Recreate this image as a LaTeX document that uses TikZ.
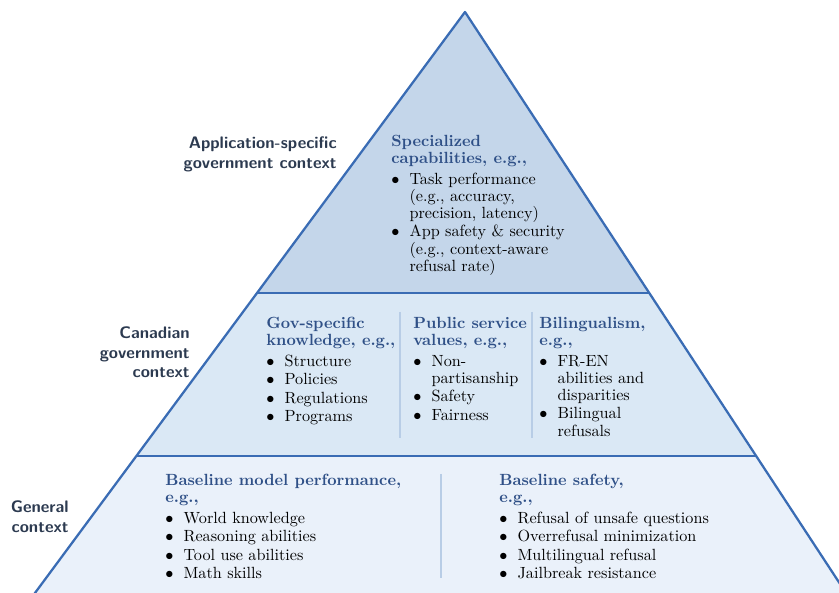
\documentclass[tikz,border=0pt]{standalone}
\usepackage{amsmath, amssymb}
\usepackage{xcolor}
\usepackage{tikz}
\usetikzlibrary{calc}

\definecolor{pyrEdge}{RGB}{58,108,180}
\definecolor{topFill}{RGB}{196,214,234}
\definecolor{midFill}{RGB}{218,232,245}
\definecolor{botFill}{RGB}{234,241,250}
\definecolor{sepBlue}{RGB}{184,205,230}
\definecolor{headBlue}{RGB}{47,80,135}
\definecolor{sideGray}{RGB}{44,58,80}

% bullet column for the lists inside the pyramid
\newlength{\bulw}
\setlength{\bulw}{11.3pt}
\newcommand{\bl}{\makebox[\bulw][l]{$\bullet$}}
\newcommand{\ind}{\hspace*{\bulw}}
\newcommand{\hd}[1]{\textcolor{headBlue}{\textbf{#1}}}

\begin{document}
\begin{tikzpicture}[x=0.0217cm, y=-0.0217cm,
  edge/.style = {draw=pyrEdge, line width=1.4pt, line join=round},
  sep/.style = {draw=sepBlue, line width=0.9pt},
  blk/.style = {anchor=north west, inner sep=0pt, align=left, font=\fontsize{10}{10.6}\selectfont},
  side/.style = {anchor=north east, inner sep=0pt, align=right, text=sideGray, font=\fontsize{10.3}{12.3}\selectfont\sffamily\bfseries}]

\useasboundingbox (0,0) rectangle (839,593);
\clip (0,0) rectangle (839,593);

% pyramid corners and the two band boundaries
\coordinate (apex) at (465,12);
\coordinate (bl) at (29.8,600);
\coordinate (br) at (850.6,600);
\coordinate (l1) at ($(apex)!0.4779!(bl)$);
\coordinate (r1) at ($(apex)!0.4779!(br)$);
\coordinate (l2) at ($(apex)!0.7551!(bl)$);
\coordinate (r2) at ($(apex)!0.7551!(br)$);

\fill[topFill] (apex) -- (r1) -- (l1) -- cycle;
\fill[midFill] (l1) -- (r1) -- (r2) -- (l2) -- cycle;
\fill[botFill] (l2) -- (r2) -- (br) -- (bl) -- cycle;

\draw[edge] (bl) -- (apex) -- (br);
\draw[edge] (l1) -- (r1);
\draw[edge] (l2) -- (r2);

% column rules
\draw[sep] (400,312) -- (400,438);
\draw[sep] (532,312) -- (532,438);
\draw[sep] (441,474) -- (441,578);

% level labels
\node[side] (appCtx) at (337,136) {Application-specific\\government context};
\node[side] (canCtx) at (190,326) {Canadian\\government\\context};
\node[side] (genCtx) at (69,500) {General\\context};

% top level
\node[blk] (specCap) at (391,135) {\hd{Specialized}\\\hd{capabilities, e.g.,}\\[2pt]
  \bl Task performance\\\ind (e.g., accuracy,\\\ind precision, latency)\\[0.8pt]
  \bl App safety \& security\\\ind (e.g., context-aware\\\ind refusal rate)};

% middle level
\node[blk] (govKnow) at (266,317) {\hd{Gov-specific}\\\hd{knowledge, e.g.,}\\[2pt]
  \bl Structure\\[0.8pt]\bl Policies\\[0.8pt]\bl Regulations\\[0.8pt]\bl Programs};
\node[blk] (pubVal) at (413,317) {\hd{Public service}\\\hd{values, e.g.,}\\[2pt]
  \bl Non-\\\ind partisanship\\[0.8pt]\bl Safety\\[0.8pt]\bl Fairness};
\node[blk] (biling) at (539,317) {\hd{Bilingualism,}\\\hd{e.g.,}\\[2pt]
  \bl FR-EN\\\ind abilities and\\\ind disparities\\[0.8pt]\bl Bilingual\\\ind refusals};

% bottom level
\node[blk] (basePerf) at (165,474) {\hd{Baseline model performance,}\\\hd{e.g.,}\\[2pt]
  \bl World knowledge\\[0.8pt]\bl Reasoning abilities\\[0.8pt]\bl Tool use abilities\\[0.8pt]\bl Math skills};
\node[blk] (baseSafe) at (499,474) {\hd{Baseline safety,}\\\hd{e.g.,}\\[2pt]
  \bl Refusal of unsafe questions\\[0.8pt]\bl Overrefusal minimization\\[0.8pt]\bl Multilingual refusal\\[0.8pt]\bl Jailbreak resistance};
\end{tikzpicture}
\end{document}
